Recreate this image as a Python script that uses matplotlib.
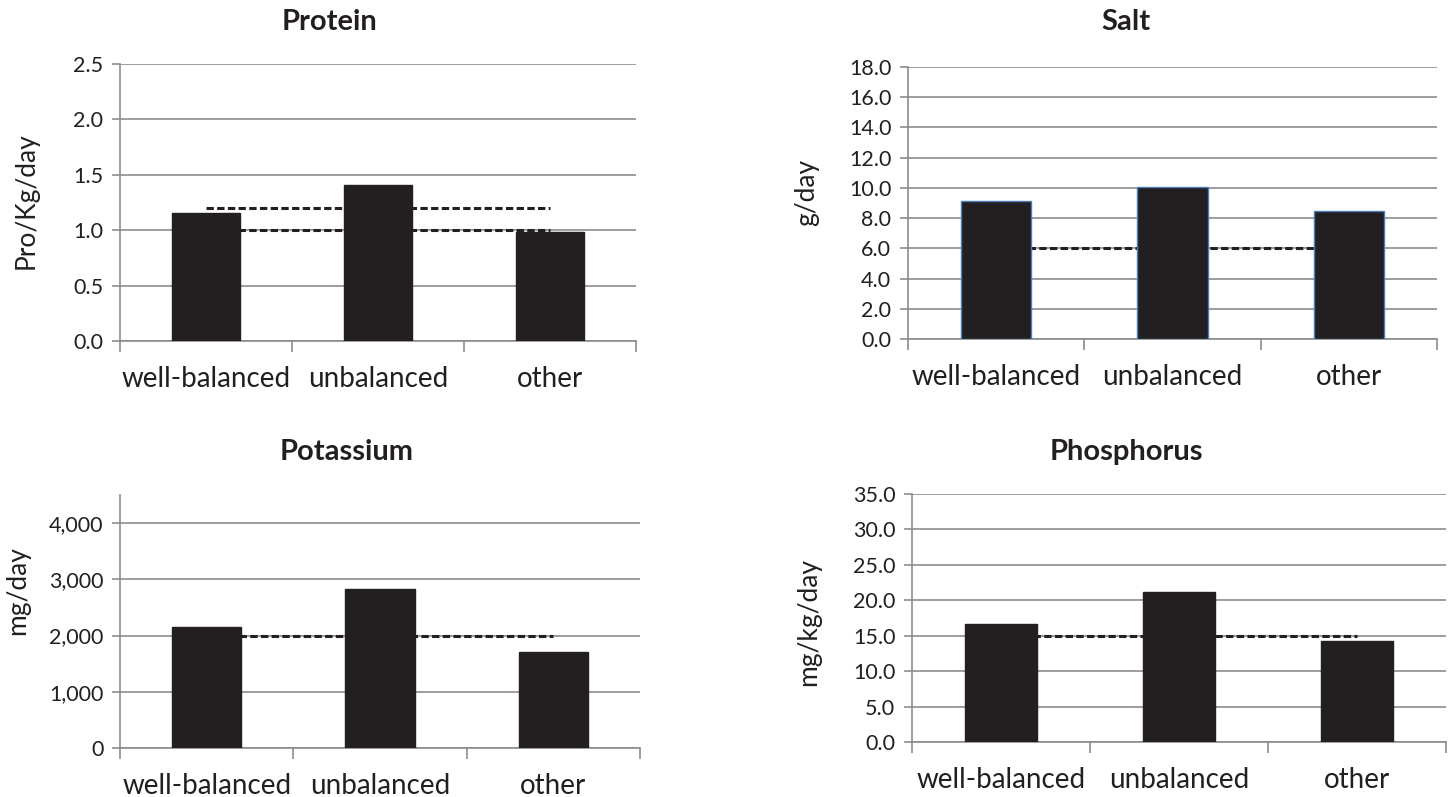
import matplotlib
matplotlib.use("Agg")
import matplotlib.pyplot as plt
from matplotlib.ticker import FuncFormatter, FixedLocator

plt.rcParams['font.family'] = ['Lato', 'DejaVu Sans']

categories = ["well-balanced", "unbalanced", "other"]

protein_vals = [1.155, 1.41, 0.985]
protein_refs = [1.2, 1.0]
salt_vals = [9.1, 10.07, 8.46]
salt_refs = [6.0]
potassium_vals = [2150, 2835, 1705]
potassium_refs = [2000]
phosphorus_vals = [16.7, 21.15, 14.2]
phosphorus_refs = [15.0]

W, H = 1453, 797
fig = plt.figure(figsize=(W / 100, H / 100), dpi=100)

TEXT = "#231f20"
BAR = "#231f20"
GRID = "#8c8c8c"


def px_axes(l, t, r, b):
    return fig.add_axes([l / W, 1 - b / H, (r - l) / W, (b - t) / H])


panels = [
    dict(title="Protein", ylabel="Pro/Kg/day", vals=protein_vals, refs=protein_refs,
         box=(120, 64, 636, 341), ymax=2.5, step=0.5, fmt="{:.1f}", edge=BAR,
         title_xy=(329, 22), ylab_xy=(39, 201)),
    dict(title="Salt", ylabel="g/day", vals=salt_vals, refs=salt_refs,
         box=(908, 67, 1437, 339), ymax=18.0, step=2.0, fmt="{:.1f}", edge="#4a7ebb",
         title_xy=(1126, 22), ylab_xy=(819, 192)),
    dict(title="Potassium", ylabel="mg/day", vals=potassium_vals, refs=potassium_refs,
         box=(120, 495, 640, 748), ymax=4500, step=1000, fmt="{:,.0f}", edge=BAR,
         title_xy=(347, 452), ylab_xy=(30, 591), tickmax=4000),
    dict(title="Phosphorus", ylabel="mg/kg/day", vals=phosphorus_vals, refs=phosphorus_refs,
         box=(912, 494, 1446, 742), ymax=35.0, step=5.0, fmt="{:.1f}", edge=BAR,
         title_xy=(1126, 452), ylab_xy=(821, 622)),
]

for p in panels:
    l, t, r, b = p["box"]
    ax = px_axes(l, t, r, b)
    x = list(range(len(categories)))
    ax.bar(x, p["vals"], width=0.4, color=BAR, edgecolor=p["edge"], linewidth=1.0, zorder=3)
    for ref in p["refs"]:
        ax.plot([0, 2], [ref, ref], color="#231f20", linewidth=2.2,
                linestyle=(0, (2.4, 1.1)), zorder=2)
    ax.set_xlim(-0.5, 2.5)
    ax.set_ylim(0, p["ymax"])
    tickmax = p.get("tickmax", p["ymax"])
    n = int(round(tickmax / p["step"]))
    yt = [i * p["step"] for i in range(n + 1)]
    ax.yaxis.set_major_locator(FixedLocator(yt))
    fmt = p["fmt"]
    ax.yaxis.set_major_formatter(FuncFormatter(lambda v, pos, f=fmt: f.format(v)))
    ax.grid(axis="y", color=GRID, linewidth=1.2, zorder=1)
    ax.set_axisbelow(True)
    ax.set_xticks(x)
    ax.set_xticklabels(categories)
    ax.set_xticks([-0.5, 0.5, 1.5, 2.5], minor=True)
    ax.tick_params(axis="x", which="major", length=0, pad=18, labelsize=20, labelcolor=TEXT)
    ax.tick_params(axis="x", which="minor", length=8, width=1.2, color=GRID, direction="out")
    ax.tick_params(axis="y", length=6, width=1.2, color=GRID, labelsize=15.5, labelcolor=TEXT, pad=6)
    for s in ["top", "right"]:
        ax.spines[s].set_visible(False)
    for s in ["left", "bottom"]:
        ax.spines[s].set_color(GRID)
        ax.spines[s].set_linewidth(1.2)
    ax.set_ylabel(p["ylabel"], fontsize=19, color=TEXT)
    lx, ly = p["ylab_xy"]
    ax.yaxis.set_label_coords((lx - l) / (r - l), (b - ly) / (b - t))
    tx, ty = p["title_xy"]
    fig.text(tx / W, 1 - ty / H, p["title"], fontsize=21, fontweight="bold",
             color=TEXT, ha="center", va="center")

fig.savefig("out.png", dpi=100, facecolor="white")
